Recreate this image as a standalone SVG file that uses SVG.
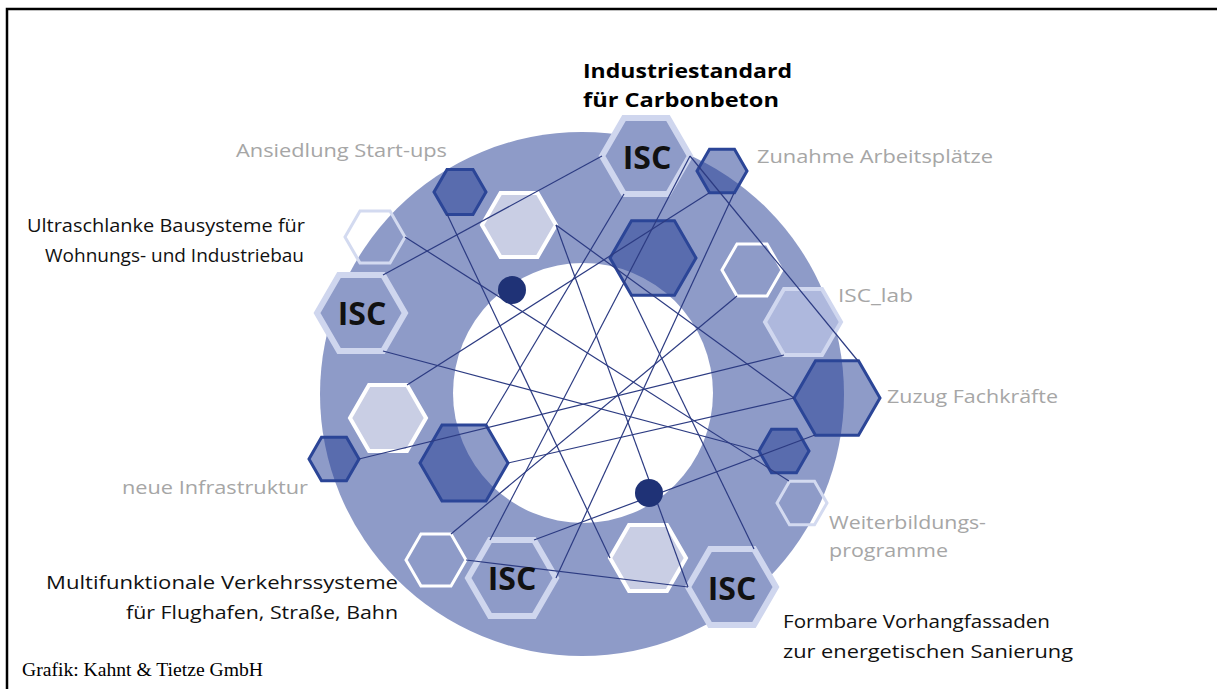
<svg xmlns="http://www.w3.org/2000/svg" width="1217" height="689" viewBox="0 0 1217 689">
  <style>
    .ring { fill: #8e9bc8; }
    .hole { fill: #ffffff; }
    .dark { fill: #2a4297; fill-opacity: 0.53; stroke: #2b4597; stroke-width: 3; stroke-linejoin: miter; }
    .light { fill: #c9cee4; stroke: #ffffff; stroke-width: 4; }
    .white { fill: none; stroke: #ffffff; stroke-width: 3; }
    .pale { fill: none; stroke: #d3daf0; stroke-width: 3; }
    .lab { fill: #aeb8dd; stroke: #d0d7ef; stroke-width: 4; }
    .isc { fill: #8e9bc8; stroke: #cfd6ee; stroke-width: 6; }
    .dot { fill: #1f3276; }
    .links line { stroke: #2c3b82; stroke-width: 1.2; }
    .isc-t { font-family: "Open Sans", "Liberation Sans", sans-serif; font-weight: bold; font-size: 32px; fill: #111111; text-anchor: middle; }
    .lbl { font-family: "Open Sans", "Liberation Sans", sans-serif; font-size: 19px; fill: #111111; }
    .lbl-b { font-family: "Open Sans", "Liberation Sans", sans-serif; font-size: 19px; font-weight: bold; fill: #000000; }
    .grey { font-family: "Open Sans", "Liberation Sans", sans-serif; font-size: 19px; fill: #a6a6a6; }
    .credit { font-family: "Liberation Serif", serif; font-size: 19.5px; fill: #000000; }
  </style>

  <rect x="0" y="0" width="1217" height="689" fill="#ffffff"/>
  <!-- frame: top and left edges only -->
  <path d="M7,689 V9 H1217" fill="none" stroke="#000000" stroke-width="2.5"/>

  <!-- ring -->
  <g id="ring">
    <circle class="ring" cx="582" cy="394" r="262"/>
    <circle class="hole" cx="583" cy="393" r="130"/>
  </g>

  <!-- hexagon nodes -->
  <g id="hex-isc-top"><polygon class="isc" points="690,156 668,194.1 624,194.1 602,156 624,117.9 668,117.9"/></g>
  <g id="hex-zunahme"><polygon class="dark" points="747,171 734.5,192.65 709.5,192.65 697,171 709.5,149.35 734.5,149.35"/></g>
  <g id="hex-ansiedlung"><polygon class="dark" points="486,192 473,214.5 447,214.5 434,192 447,169.5 473,169.5"/></g>
  <g id="hex-light-a"><polygon class="light" points="556,225 537.5,257 500.5,257 482,225 500.5,193 537.5,193"/></g>
  <g id="hex-dark-top"><polygon class="dark" points="696,258 674.5,295.2 631.5,295.2 610,258 631.5,220.8 674.5,220.8"/></g>
  <g id="hex-white-a"><polygon class="white" points="782,270 767,296 737,296 722,270 737,244 767,244"/></g>
  <g id="hex-isc-lab"><polygon class="lab" points="841,322 822,354.9 784,354.9 765,322 784,289.1 822,289.1"/></g>
  <g id="hex-zuzug"><polygon class="dark" points="880,398 858.5,435.2 815.5,435.2 794,398 815.5,360.8 858.5,360.8"/></g>
  <g id="hex-dark-right"><polygon class="dark" points="809,451 796.5,472.65 771.5,472.65 759,451 771.5,429.35 796.5,429.35"/></g>
  <g id="hex-weiterbildung"><polygon class="pale" points="827,503 814.5,524.65 789.5,524.65 777,503 789.5,481.35 814.5,481.35"/></g>
  <g id="hex-light-b"><polygon class="light" points="686,558 667,590.9 629,590.9 610,558 629,525.1 667,525.1"/></g>
  <g id="hex-isc-fassade"><polygon class="isc" points="776,587 754,625.1 710,625.1 688,587 710,548.9 754,548.9"/></g>
  <g id="hex-isc-verkehr"><polygon class="isc" points="556,578 534,616.1 490,616.1 468,578 490,539.9 534,539.9"/></g>
  <g id="hex-white-b"><polygon class="white" points="466,560 451,586 421,586 406,560 421,534 451,534"/></g>
  <g id="hex-dark-left"><polygon class="dark" points="508,463 486,501.1 442,501.1 420,463 442,424.9 486,424.9"/></g>
  <g id="hex-light-c"><polygon class="light" points="426,418 407,450.9 369,450.9 350,418 369,385.1 407,385.1"/></g>
  <g id="hex-infrastruktur"><polygon class="dark" points="359,459 346.5,480.65 321.5,480.65 309,459 321.5,437.35 346.5,437.35"/></g>
  <g id="hex-isc-bau"><polygon class="isc" points="405,313 383,351.1 339,351.1 317,313 339,274.9 383,274.9"/></g>
  <g id="hex-pale-top"><polygon class="pale" points="405,237 390,263 360,263 345,237 360,211 390,211"/></g>

  <!-- connectors -->
  <g id="connectors" class="links">
    <line x1="602" y1="156" x2="383" y2="275"/>
    <line x1="624" y1="194" x2="486" y2="425"/>
    <line x1="690" y1="156" x2="858" y2="361"/>
    <line x1="709" y1="193" x2="407" y2="385"/>
    <line x1="734" y1="193" x2="556" y2="578"/>
    <line x1="447" y1="214" x2="610" y2="558"/>
    <line x1="556" y1="225" x2="794" y2="398"/>
    <line x1="556" y1="225" x2="688" y2="587"/>
    <line x1="405" y1="237" x2="789" y2="481"/>
    <line x1="383" y1="351" x2="759" y2="451"/>
    <line x1="737" y1="296" x2="451" y2="534"/>
    <line x1="359" y1="459" x2="784" y2="355"/>
    <line x1="508" y1="463" x2="794" y2="398"/>
    <line x1="534" y1="540" x2="815" y2="435"/>
    <line x1="631" y1="295" x2="754" y2="549"/>
    <line x1="466" y1="560" x2="688" y2="587"/>
    <line x1="690" y1="156" x2="490" y2="540"/>
  </g>

  <!-- dots -->
  <g id="dot-upper"><circle class="dot" cx="512" cy="290" r="14"/></g>
  <g id="dot-lower"><circle class="dot" cx="649" cy="493" r="14"/></g>

  <!-- ISC labels -->
  <text class="isc-t" x="647" y="169">ISC</text>
  <text class="isc-t" x="362" y="325">ISC</text>
  <text class="isc-t" x="512" y="590">ISC</text>
  <text class="isc-t" x="732" y="600">ISC</text>

  <!-- captions -->
  <text class="lbl-b" x="583" y="78" textLength="209" lengthAdjust="spacingAndGlyphs">Industriestandard</text>
  <text class="lbl-b" x="583" y="107" textLength="196" lengthAdjust="spacingAndGlyphs">für Carbonbeton</text>
  <text class="grey" x="236" y="157" textLength="211" lengthAdjust="spacingAndGlyphs">Ansiedlung Start-ups</text>
  <text class="grey" x="757" y="163" textLength="236" lengthAdjust="spacingAndGlyphs">Zunahme Arbeitsplätze</text>
  <text class="lbl" x="27" y="232" textLength="278" lengthAdjust="spacingAndGlyphs">Ultraschlanke Bausysteme für</text>
  <text class="lbl" x="45" y="262" textLength="259" lengthAdjust="spacingAndGlyphs">Wohnungs- und Industriebau</text>
  <text class="grey" x="838" y="302" textLength="75" lengthAdjust="spacingAndGlyphs">ISC_lab</text>
  <text class="grey" x="887" y="403" textLength="171" lengthAdjust="spacingAndGlyphs">Zuzug Fachkräfte</text>
  <text class="grey" x="122" y="494" textLength="186" lengthAdjust="spacingAndGlyphs">neue Infrastruktur</text>
  <text class="grey" x="829" y="529" textLength="157" lengthAdjust="spacingAndGlyphs">Weiterbildungs-</text>
  <text class="grey" x="829" y="557" textLength="119" lengthAdjust="spacingAndGlyphs">programme</text>
  <text class="lbl" x="46" y="589" textLength="352" lengthAdjust="spacingAndGlyphs">Multifunktionale Verkehrssysteme</text>
  <text class="lbl" x="126" y="619" textLength="272" lengthAdjust="spacingAndGlyphs">für Flughafen, Straße, Bahn</text>
  <text class="lbl" x="783" y="628" textLength="267" lengthAdjust="spacingAndGlyphs">Formbare Vorhangfassaden</text>
  <text class="lbl" x="783" y="658" textLength="290" lengthAdjust="spacingAndGlyphs">zur energetischen Sanierung</text>
  <text class="credit" x="22" y="676" textLength="241" lengthAdjust="spacingAndGlyphs">Grafik: Kahnt &amp; Tietze GmbH</text>
</svg>
